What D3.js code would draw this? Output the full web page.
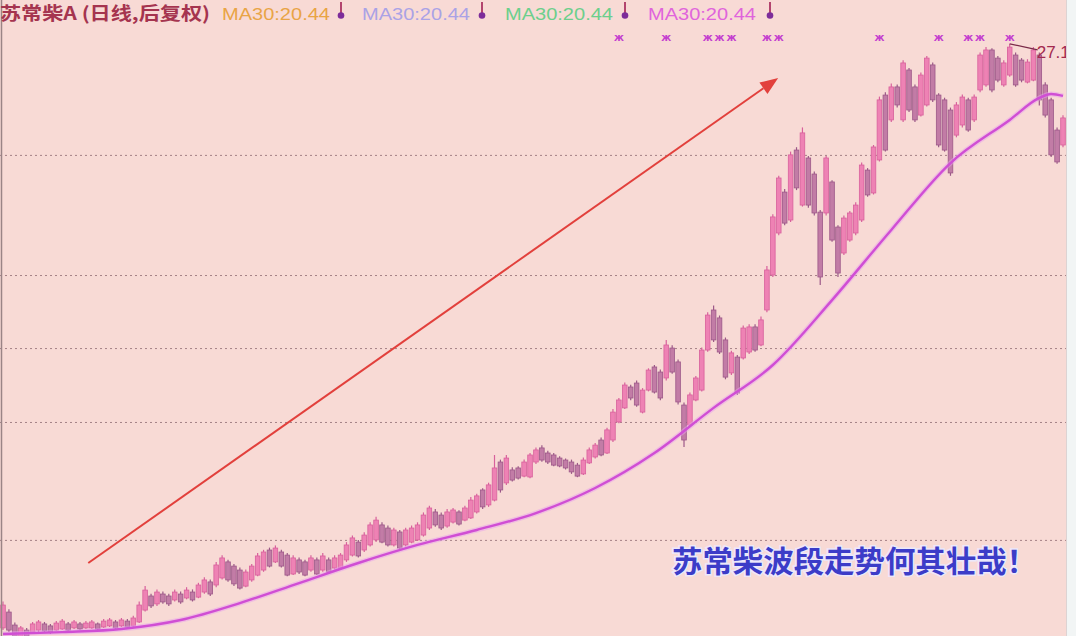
<!DOCTYPE html>
<html><head><meta charset="utf-8">
<script src="https://cdn.jsdelivr.net/npm/d3@7"></script>
<style>
html,body{margin:0;padding:0;background:#f8dad5;overflow:hidden}
svg{display:block}
</style></head><body>
<svg id="c" width="1076" height="636"></svg>
<script>
// ---------- data (prices) ----------
const opens = [.55,1.27,.68,.18,.45,.36,.45,.73,.64,.45,.5,.73,.55,.73,.55,.55,.73,.59,.64,.82,.64,.86,.64,.82,1.36,2.0,1.64,2.09,2.0,1.82,
2.09,1.91,2.18,1.95,2.18,2.64,2.5,2.82,3.55,3.36,3.18,2.45,2.73,2.95,3.18,4.09,3.55,4.0,3.86,3.0,
3.64,3.55,3.18,3.64,3.18,3.64,3.27,3.27,3.64,3.86,4.45,4.09,4.32,4.55,5.23,5.09,4.32,4.91,4.32,4.45,
4.55,4.77,5.09,5.82,5.68,5.18,5.36,5.82,5.45,5.55,5.82,6.82,6.14,6.36,8.09,7.14,7.73,7.82,7.45,7.41,
8.09,8.73,8.5,8.41,8.27,8.18,8.09,7.95,7.55,8.05,8.32,9.09,8.5,9.09,9.91,10.55,11.5,11.68,10.36,11.36,
12.41,12.18,11.91,13.27,12.64,10.68,9.77,10.91,11.36,13.18,15.0,14.64,13.64,12.14,12.86,12.82,13.09,14.23,13.41,15.0,
16.59,18.5,20.36,19.09,22.27,19.77,21.91,21.18,19.45,19.41,20.82,18.77,17.59,18.18,18.5,19.09,21.36,20.32,21.82,24.77,
23.64,25.14,23.64,25.91,25.14,23.86,24.32,26.14,24.77,24.55,24.09,22.95,23.41,24.55,23.64,25.0,25.23,26.82,26.45,25.23,
25.68,26.59,26.36,25.36,25.45,26.59,25.23,24.55,23.18,22.5];
const closes = [1.59,.45,.18,.55,.18,.73,.82,.41,.36,.77,.86,.45,.82,.5,.77,.82,.5,.86,.91,.55,.91,.59,1.0,1.59,2.27,1.55,2.18,1.73,1.64,2.18,
1.73,2.27,1.82,2.5,2.73,2.09,3.41,3.73,2.73,2.55,2.36,3.09,3.36,3.82,4.0,3.36,4.18,3.36,2.95,3.73,
3.09,2.95,3.73,3.0,3.82,3.09,3.73,3.86,4.32,4.64,3.82,4.77,5.23,5.45,4.45,4.32,5.0,4.18,5.0,5.09,
5.23,5.68,6.0,5.23,5.09,5.82,5.91,5.27,6.0,6.36,6.55,6.05,7.05,7.82,6.82,8.27,7.27,7.36,8.09,8.41,
8.64,8.18,8.09,7.95,7.91,7.82,7.64,7.45,8.18,8.64,8.86,8.41,9.55,10.36,10.91,11.59,11.0,10.68,11.36,12.27,
11.27,11.0,13.41,12.18,10.82,9.09,11.14,11.91,13.18,14.77,13.64,13.09,11.95,13.05,11.23,14.18,14.23,13.18,14.55,16.82,
19.23,21.0,18.95,22.05,20.55,23.05,19.77,19.41,16.5,21.91,18.18,16.68,19.18,19.41,19.77,21.59,20.23,22.41,24.55,22.27,
25.14,24.32,26.23,24.09,23.64,25.68,26.45,24.55,22.5,22.27,21.23,24.32,24.68,23.18,24.68,26.59,26.82,25.0,25.45,26.23,
26.95,25.23,25.45,26.27,26.82,24.55,23.86,22.05,21.73,23.73];
const highs = [1.75,1.4,.8,.64,.55,.82,.91,.82,.73,.86,.95,.82,.91,.82,.86,.91,.8,.95,1.0,.91,1.0,.95,1.1,1.75,2.45,2.1,2.3,2.2,2.1,2.3,
2.2,2.4,2.3,2.6,2.85,2.75,3.55,3.85,3.65,3.45,3.3,3.2,3.45,3.95,4.1,4.2,4.3,4.1,3.95,3.85,
3.75,3.65,3.85,3.75,3.95,3.75,3.85,3.95,4.45,4.75,4.55,4.9,5.35,5.6,5.35,5.2,5.1,5.0,5.1,5.2,
5.35,5.8,6.1,5.95,5.8,5.95,6.0,5.9,6.1,6.5,6.65,6.9,7.15,8.41,8.2,8.41,7.85,7.9,8.2,8.5,
8.75,8.85,8.6,8.5,8.35,8.25,8.2,8.05,8.3,8.75,8.95,9.2,9.65,10.5,11.0,11.7,11.6,11.8,11.45,12.35,
12.5,12.3,13.64,13.4,12.75,10.8,11.25,12.0,13.3,14.9,15.2,14.75,13.75,13.15,12.95,14.3,14.35,14.35,14.7,17.0,
19.35,21.1,20.5,22.2,22.4,23.3,22.0,21.3,19.55,22.0,20.9,18.85,19.3,19.5,19.9,21.7,21.45,22.5,24.7,24.9,
25.3,25.25,26.35,26.0,25.25,25.8,26.55,26.25,24.85,24.65,24.2,24.45,24.8,24.65,24.8,26.7,26.95,26.9,26.55,26.35,
27.1,26.7,26.45,26.4,26.95,26.7,25.35,24.65,23.3,23.85];
const lows = [.45,.36,.1,.1,.1,.27,.36,.36,.27,.41,.45,.41,.5,.45,.5,.5,.45,.55,.59,.5,.59,.55,.59,.77,1.3,1.45,1.55,1.65,1.55,1.75,
1.65,1.85,1.75,1.9,2.1,2.0,2.4,2.75,2.65,2.45,2.3,2.4,2.65,2.9,3.1,3.3,3.5,3.3,2.9,2.95,
3.0,2.9,3.1,2.95,3.1,3.0,3.2,3.2,3.55,3.8,3.75,4.0,4.25,4.45,4.4,4.25,4.25,4.1,4.25,4.4,
4.5,4.7,5.0,5.15,5.0,5.1,5.3,5.2,5.4,5.5,5.75,5.95,6.05,6.3,6.7,7.05,7.2,7.3,7.4,7.35,
8.0,8.1,8.0,7.9,7.85,7.75,7.55,7.4,7.5,8.0,8.25,8.35,8.45,9.0,9.85,10.5,10.9,10.6,10.3,11.3,
11.2,10.9,11.8,12.1,10.7,8.77,9.7,10.85,11.3,13.1,13.55,13.0,11.85,12.05,11.14,12.75,13.0,13.1,13.35,14.9,
16.5,18.4,18.85,19.0,20.45,19.7,19.65,19.3,16.14,19.3,18.1,16.5,17.5,18.1,18.4,19.0,20.15,20.25,21.75,22.2,
23.55,24.2,23.55,24.0,23.55,23.8,24.25,24.45,22.4,22.2,21.1,22.85,23.3,23.1,23.55,24.9,25.15,24.9,25.35,25.15,
25.6,25.15,25.35,25.3,25.4,24.3,23.75,21.95,21.65,22.4];
// MA30 read at sample bars
const maIndex  = [0, 10, 20, 30, 40, 50, 60, 70, 80, 90, 100, 110, 120, 130, 140, 150, 160, 170, 175, 177, 179];
const maValues = [0.27, 0.36, 0.5, 0.91, 1.68, 2.59, 3.5, 4.32, 5.0, 5.77, 6.91, 8.5, 10.55, 12.5, 15.45, 18.64, 21.68, 23.64, 24.64, 24.82, 24.73];
const gridValues = [22.05, 16.59, 13.27, 9.91, 4.55];
const signalIndex = [104, 112, 119, 121, 123, 129, 131, 148, 158, 163, 165, 170];
const titleText = "苏常柴A (日线,后复权)";
const legendLabels = ["MA30:20.44", "MA30:20.44", "MA30:20.44", "MA30:20.44"];
const maxLabel = "27.1";
const captionText = "苏常柴波段走势何其壮哉！";
const arrowFrom = {i: 14.4, p: 3.5};
const arrowTo = {i: 130.9, p: 25.55};

// ---------- drawing ----------
const W = 1076, H = 636, plotRight = 1066;
const N = opens.length;
const x = d3.scaleLinear().domain([0, N - 1]).range([3, 1063]);
const y = d3.scaleLinear().domain([0, 640 / 22]).range([640, 0]);
const svg = d3.select('#c');
const defs = svg.append('defs');
defs.append('clipPath').attr('id', 'plot').append('rect').attr('x', 0).attr('y', 0).attr('width', plotRight).attr('height', H);
const glow = defs.append('filter').attr('id', 'soft').attr('x', '-5%').attr('y', '-5%').attr('width', '110%').attr('height', '110%');
glow.append('feGaussianBlur').attr('stdDeviation', 0.6);

svg.append('rect').attr('width', W).attr('height', H).attr('fill', '#f8dad5');
svg.append('rect').attr('x', plotRight).attr('width', W - plotRight).attr('height', H).attr('fill', '#f2f5f5');
svg.append('line').attr('x1', plotRight + 0.5).attr('x2', plotRight + 0.5).attr('y1', 0).attr('y2', H).attr('stroke', '#ddd3d3');

const plot = svg.append('g').attr('clip-path', 'url(#plot)');

// grid lines via axis
const gridG = plot.append('g').call(d3.axisLeft(y).tickValues(gridValues).tickSize(-plotRight).tickFormat(''));
gridG.select('.domain').remove();
gridG.selectAll('line').attr('stroke', '#957278').attr('stroke-width', 1).attr('stroke-dasharray', '2,3').attr('opacity', 0.85);

// left border
svg.append('line').attr('x1', 1.5).attr('x2', 1.5).attr('y1', 0).attr('y2', H).attr('stroke', '#9a8486').attr('stroke-width', 1.5);

// candles
const bars = d3.range(N).map(i => ({i, o: opens[i], c: closes[i], h: highs[i], l: lows[i]}));
const upFill = '#ee82b4', upStroke = '#d8609c', dnFill = '#c27ba6', dnStroke = '#9c5888';
const cg = plot.append('g').attr('filter', 'url(#soft)');
cg.selectAll('line.wick').data(bars).join('line')
  .attr('x1', d => x(d.i)).attr('x2', d => x(d.i))
  .attr('y1', d => y(d.h)).attr('y2', d => y(d.l))
  .attr('stroke', d => d.c >= d.o ? upStroke : dnStroke).attr('stroke-width', 1.2);
cg.selectAll('rect.body').data(bars).join('rect')
  .attr('x', d => x(d.i) - 2.3).attr('width', 4.6)
  .attr('y', d => y(Math.max(d.o, d.c)))
  .attr('height', d => Math.max(1, Math.abs(y(d.o) - y(d.c))))
  .attr('fill', d => d.c >= d.o ? upFill : dnFill)
  .attr('stroke', d => d.c >= d.o ? upStroke : dnStroke).attr('stroke-width', 0.8);

// MA30 line
const maPts = maIndex.map((k, j) => ({i: k, v: maValues[j]}));
const maLine = d3.line().x(d => x(d.i)).y(d => y(d.v)).curve(d3.curveMonotoneX);
plot.append('path').datum(maPts).attr('d', maLine).attr('fill', 'none')
  .attr('stroke', '#e8a0ee').attr('stroke-width', 5).attr('opacity', 0.5);
plot.append('path').datum(maPts).attr('d', maLine).attr('fill', 'none')
  .attr('stroke', '#d04ed4').attr('stroke-width', 2.4);

// red arrow
const ax1 = x(arrowFrom.i), ay1 = y(arrowFrom.p), ax2 = x(arrowTo.i), ay2 = y(arrowTo.p);
const ang = Math.atan2(ay2 - ay1, ax2 - ax1);
const headLen = 18, headHalf = 7;
const bx = ax2 - headLen * Math.cos(ang), by = ay2 - headLen * Math.sin(ang);
plot.append('line').attr('x1', ax1).attr('y1', ay1).attr('x2', bx).attr('y2', by)
  .attr('stroke', '#e2403c').attr('stroke-width', 2);
const px = -Math.sin(ang), py = Math.cos(ang);
plot.append('path')
  .attr('d', `M${ax2},${ay2}L${bx + px * headHalf},${by + py * headHalf}L${bx - px * headHalf},${by - py * headHalf}Z`)
  .attr('fill', '#e2403c');

// signal markers
plot.selectAll('text.sig').data(signalIndex).join('text')
  .attr('class', 'sig')
  .attr('x', d => x(d)).attr('y', 41).attr('text-anchor', 'middle')
  .attr('font-family', 'DejaVu Sans').attr('font-size', 10).attr('font-weight', 'bold')
  .attr('fill', '#c43fcf').text('ж');

// max label
const mi = highs.indexOf(d3.max(highs));
plot.append('line').attr('x1', x(mi)).attr('y1', y(highs[mi])).attr('x2', x(mi) + 28).attr('y2', y(highs[mi]) + 6)
  .attr('stroke', '#7a2a48').attr('stroke-width', 1.3);
plot.append('text').attr('x', x(mi) + 27).attr('y', y(highs[mi]) + 14)
  .attr('font-family', 'Liberation Sans, Arial').attr('font-size', 17).attr('fill', '#a3294f').text(maxLabel);

// legend
svg.append('text').attr('x', 0).attr('y', 20)
  .attr('font-family', 'Noto Sans CJK SC').attr('font-size', 18).attr('font-weight', 'bold')
  .attr('fill', '#a5344f').attr('textLength', 210).attr('lengthAdjust', 'spacingAndGlyphs').text(titleText);
const legX = [222, 362, 505, 648];
const legColors = ['#e9a445', '#aaa2e6', '#6ccf8c', '#e064dc'];
const markX = [341, 482, 625, 770];
legendLabels.forEach((t, k) => {
  svg.append('text').attr('x', legX[k]).attr('y', 20)
    .attr('font-family', 'Liberation Sans, Arial').attr('font-size', 17)
    .attr('fill', legColors[k]).attr('textLength', 108).attr('lengthAdjust', 'spacingAndGlyphs').text(t);
  svg.append('line').attr('x1', markX[k]).attr('x2', markX[k]).attr('y1', 2).attr('y2', 14)
    .attr('stroke', '#b3446e').attr('stroke-width', 2);
  svg.append('circle').attr('cx', markX[k]).attr('cy', 15.5).attr('r', 3.3).attr('fill', '#7d2c9a');
});

// caption
svg.append('text').attr('x', 672).attr('y', 572)
  .attr('font-family', 'Noto Sans CJK SC').attr('font-size', 30).attr('font-weight', 'bold')
  .attr('fill', '#3c3cc8').attr('stroke', '#ece8fb').attr('stroke-width', 3).attr('paint-order', 'stroke')
  .attr('textLength', 365).attr('lengthAdjust', 'spacingAndGlyphs').text(captionText);
</script>
</body></html>
